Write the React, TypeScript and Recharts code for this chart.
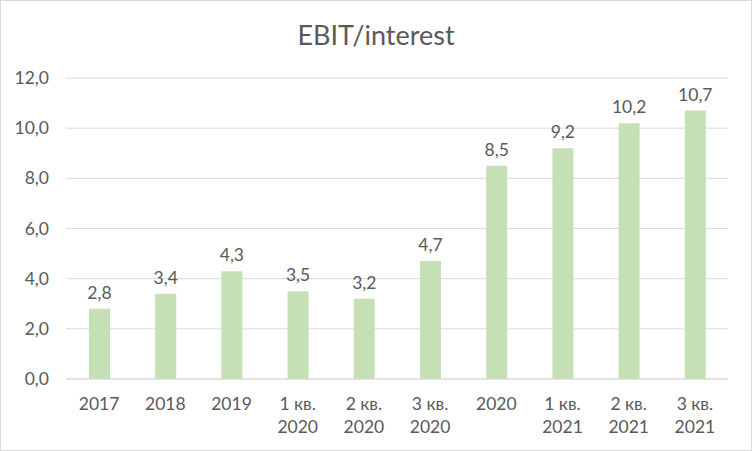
import React from 'react';
import { BarChart, Bar, XAxis, YAxis, CartesianGrid, LabelList } from 'recharts';

const categories = ['2017', '2018', '2019', '1 кв.\n2020', '2 кв.\n2020', '3 кв.\n2020', '2020', '1 кв.\n2021', '2 кв.\n2021', '3 кв.\n2021'];
const values = [2.8, 3.4, 4.3, 3.5, 3.2, 4.7, 8.5, 9.2, 10.2, 10.7];
const yTicks = [0, 2, 4, 6, 8, 10, 12];

const data = categories.map((name, i) => ({ name, value: values[i] }));

const FONT = 'Lato, sans-serif';
const TEXT = '#595959';
const FS = 17.5;

const fmt = (v: any) => Number(v).toFixed(1).replace('.', ',');

const CategoryTick = ({ x, y, payload }: any) => {
  const lines = String(payload.value).split('\n');
  return (
    <text x={x} y={y} textAnchor="middle" fill={TEXT} fontSize={FS} fontFamily={FONT}>
      {lines.map((l, i) => (
        <tspan key={i} x={x} dy={i === 0 ? 23 : 23}>{l}</tspan>
      ))}
    </text>
  );
};

const ValueTick = ({ y, payload }: any) => (
  <text x={48} y={y} dy={6} textAnchor="end" fill={TEXT} fontSize={FS} fontFamily={FONT}>
    {fmt(payload.value)}
  </text>
);

export default function App() {
  return (
    <div
      style={{
        position: 'absolute',
        left: 0,
        top: 0,
        width: 750,
        height: 449,
        border: '1px solid #D9D9D9',
        background: '#fff',
        fontFamily: FONT,
      }}
    >
      <div
        style={{
          position: 'absolute',
          top: 17,
          width: '100%',
          textAlign: 'center',
          fontSize: 27,
          color: TEXT,
        }}
      >
        EBIT/interest
      </div>
      <BarChart
        width={750}
        height={449}
        data={data}
        margin={{ top: 77, right: 23, bottom: 0, left: 0 }}
        barCategoryGap={0}
      >
        <CartesianGrid vertical={false} stroke="#D9D9D9" strokeWidth={1} />
        <XAxis
          dataKey="name"
          axisLine={{ stroke: '#D9D9D9' }}
          tickLine={false}
          tick={<CategoryTick />}
          interval={0}
          height={71}
        />
        <YAxis
          width={65}
          domain={[0, 12]}
          ticks={yTicks}
          axisLine={false}
          tickLine={false}
          tick={<ValueTick />}
        />
        <Bar dataKey="value" fill="#C5E0B4" barSize={21} isAnimationActive={false}>
          <LabelList
            dataKey="value"
            position="top"
            offset={10}
            formatter={fmt}
            fill={TEXT}
            fontSize={FS}
            fontFamily={FONT}
          />
        </Bar>
      </BarChart>
    </div>
  );
}
